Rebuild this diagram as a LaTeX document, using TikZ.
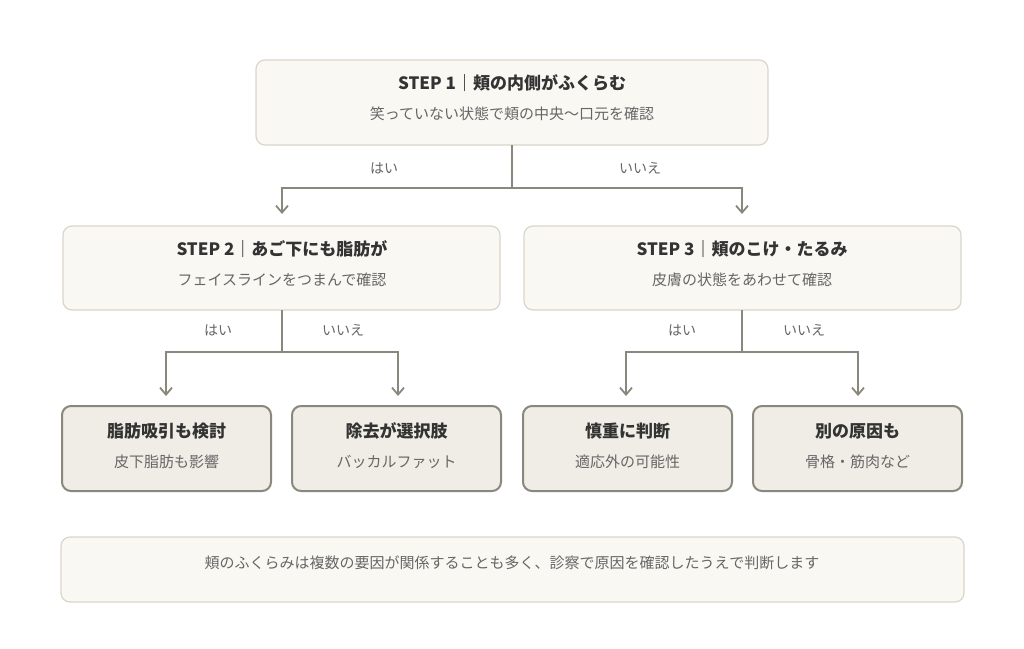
\documentclass[tikz,border=0pt]{standalone}
\usepackage{fontspec}
\setmainfont{Noto Sans CJK JP}
\usetikzlibrary{arrows.meta}
\definecolor{qfill}{HTML}{FAF8F3}
\definecolor{qline}{HTML}{DAD6CB}
\definecolor{lfill}{HTML}{F0EDE6}
\definecolor{lline}{HTML}{8A877C}
\definecolor{tdark}{HTML}{333333}
\definecolor{tsub}{HTML}{666666}
\begin{document}
\begin{tikzpicture}[x=1pt,y=-1pt,
 q/.style={draw=qline,fill=qfill,line width=1.2pt,rounded corners=9pt},
 l/.style={draw=lline,fill=lfill,line width=2pt,rounded corners=9pt},
 tt/.style={text=tdark,font=\fontsize{17}{20}\selectfont\bfseries},
 st/.style={text=tsub,font=\fontsize{15}{18}\selectfont},
 lab/.style={text=tsub,font=\fontsize{14}{17}\selectfont},
 con/.style={draw=lline,line width=1.8pt},
 arr/.style={con,-{Straight Barb[length=7pt,width=12pt]}}]
\useasboundingbox (0,0) rectangle (1024,648);
\fill[white] (0,0) rectangle (1024,648);
\path[q] (256,60) rectangle (768,145);
\node[tt] (t1) at (512,83) {STEP 1｜頬の内側がふくらむ};
\node[st] (s1) at (512,114) {笑っていない状態で頬の中央〜口元を確認};
\path[q] (63,226) rectangle (500,310);
\node[tt] (t2) at (282,249) {STEP 2｜あご下にも脂肪が};
\node[st] (s2) at (282,280) {フェイスラインをつまんで確認};
\path[q] (524,226) rectangle (961,310);
\node[tt] (t3) at (742,249) {STEP 3｜頬のこけ・たるみ};
\node[st] (s3) at (742,280) {皮膚の状態をあわせて確認};
\foreach \x/\a/\b [count=\i] in {62/脂肪吸引も検討/皮下脂肪も影響,292/除去が選択肢/バッカルファット,523/慎重に判断/適応外の可能性,753/別の原因も/骨格・筋肉など}{
 \path[l] (\x,406) rectangle (\x+209,491);
 \node[tt] (lt\i) at (\x+104.5,431) {\a};
 \node[st] (ls\i) at (\x+104.5,462) {\b};
}
\path[q] (61,537) rectangle (964,602);
\node[st] (note) at (512,563) {頬のふくらみは複数の要因が関係することも多く、診察で原因を確認したうえで判断します};
% connectors
\coordinate (c1) at (512,145); \coordinate (c1m) at (512,188);
\coordinate (a1) at (282,214); \coordinate (b1) at (742,214);
\draw[con] (c1) -- (c1m);
\draw[arr] (c1m) -| (a1);
\draw[arr] (c1m) -| (b1);
\node[lab] at (384,168) {はい};
\node[lab] at (640,168) {いいえ};
\coordinate (c2) at (282,310); \coordinate (c2m) at (282,352);
\coordinate (a2) at (166,396); \coordinate (b2) at (398,396);
\draw[con] (c2) -- (c2m);
\draw[arr] (c2m) -| (a2);
\draw[arr] (c2m) -| (b2);
\node[lab] at (218,330) {はい};
\node[lab] at (343,330) {いいえ};
\coordinate (c3) at (742,310); \coordinate (c3m) at (742,352);
\coordinate (a3) at (626,396); \coordinate (b3) at (858,396);
\draw[con] (c3) -- (c3m);
\draw[arr] (c3m) -| (a3);
\draw[arr] (c3m) -| (b3);
\node[lab] at (682,330) {はい};
\node[lab] at (804,330) {いいえ};
\end{tikzpicture}
\end{document}
